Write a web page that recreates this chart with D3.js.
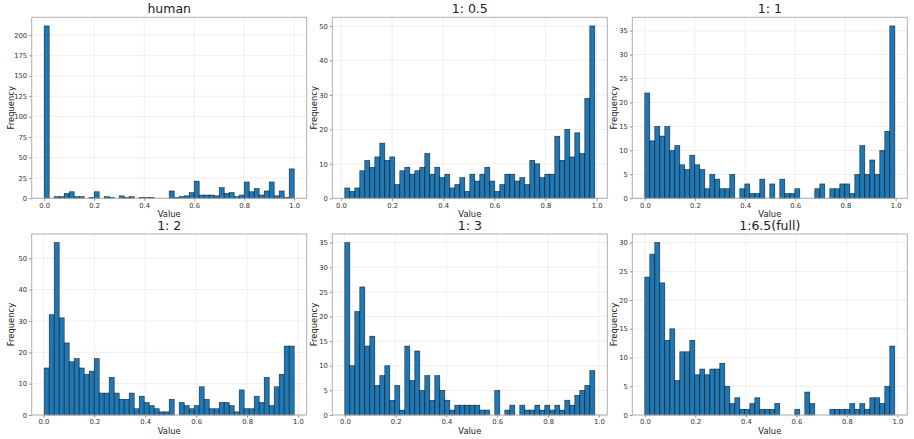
<!DOCTYPE html>
<html>
<head>
<meta charset="utf-8">
<script src="https://cdn.jsdelivr.net/npm/d3@7"></script>
<style>
	body { margin: 0; background: #fff; }
	svg { display: block; font-family: "DejaVu Sans", sans-serif; }
	.tick text { fill: #333; font-size: 6.8px; }
</style>
</head>
<body>
<svg id="chart" width="914" height="439"></svg>
<script>
// panel titles
var titles = ["human", "1: 0.5", "1: 1", "1: 2", "1: 3", "1:6.5(full)"];

// [first bin edge, last bin edge] of each histogram (50 bins each)
var binRanges = [
	[0.0, 1.0],
	[0.015, 0.993],
	[0.0, 0.997],
	[0.003, 0.985],
	[0.0, 0.984],
	[0.0, 0.99]
];

// bin counts
var humanCounts = [211, 0, 2, 2, 6, 8, 2, 2, 0, 1, 8, 0, 2, 1, 0, 3, 1, 2, 0, 1,
	1, 1, 0, 0, 0, 9, 1, 2, 3, 7, 21, 4, 4, 4, 3, 13, 6, 7, 2, 4,
	20, 8, 12, 4, 9, 20, 3, 9, 1, 36];
var ratioHalfCounts = [3, 2, 3, 8, 11, 9, 12, 16, 11, 12, 4, 8, 9, 7, 8, 9, 13, 7, 9, 6,
	7, 3, 4, 6, 2, 7, 5, 7, 9, 5, 2, 4, 7, 7, 5, 6, 4, 11, 10, 6,
	7, 7, 18, 11, 20, 12, 19, 13, 29, 50];
var ratio1Counts = [22, 12, 15, 13, 15, 10, 11, 7, 6, 9, 7, 6, 2, 5, 4, 2, 2, 5, 0, 2,
	3, 1, 1, 4, 0, 3, 0, 4, 1, 1, 2, 0, 0, 0, 2, 3, 0, 2, 2, 3,
	3, 1, 5, 11, 5, 8, 5, 10, 14, 36];
var ratio2Counts = [15, 32, 55, 31, 23, 17, 18, 15, 13, 14, 18, 7, 7, 12, 7, 5, 5, 7, 2, 6,
	4, 3, 2, 1, 1, 5, 0, 4, 3, 2, 3, 9, 5, 2, 2, 4, 4, 3, 1, 8,
	2, 2, 6, 4, 12, 3, 9, 13, 22, 22];
var ratio3Counts = [35, 10, 21, 26, 14, 16, 6, 8, 10, 3, 6, 1, 14, 7, 13, 5, 8, 3, 8, 5,
	3, 1, 2, 2, 2, 2, 2, 1, 1, 0, 5, 0, 1, 2, 0, 2, 1, 1, 2, 1,
	2, 1, 2, 1, 3, 2, 4, 5, 6, 9];
var fullCounts = [24, 28, 30, 23, 13, 15, 6, 11, 11, 13, 7, 8, 7, 8, 8, 9, 5, 2, 3, 1,
	1, 2, 3, 1, 1, 1, 2, 0, 0, 0, 1, 0, 4, 2, 0, 0, 0, 1, 1, 1,
	1, 2, 1, 2, 1, 3, 3, 2, 5, 12];

var counts = [humanCounts, ratioHalfCounts, ratio1Counts, ratio2Counts, ratio3Counts, fullCounts];
var yTickSteps = [25, 10, 5, 10, 5, 5];
var xTicks = [0, 0.2, 0.4, 0.6, 0.8, 1.0];

var layout = {
	lefts: [31.7, 332.3, 632.3],
	tops: [17.3, 234],
	width: 275,
	height: 181
};

var colors = {
	bar: "#1f77b4",
	edge: "#000",
	grid: "#ebebeb",
	frame: "#b0b0b0",
	text: "#222"
};

var svg = d3.select("#chart");

titles.forEach(function(title, p) {
	var left = layout.lefts[p % 3],
		top = layout.tops[Math.floor(p / 3)],
		w = layout.width, h = layout.height;

	var lo = binRanges[p][0], hi = binRanges[p][1],
		pad = (hi - lo) * 0.05,
		data = counts[p],
		step = (hi - lo) / data.length;

	var bins = data.map(function(c, i) {
		return { x0: lo + i * step, x1: lo + (i + 1) * step, count: c };
	});

	var x = d3.scaleLinear().domain([lo - pad, hi + pad]).range([0, w]);
	var yMax = d3.max(data) * 1.05;
	var y = d3.scaleLinear().domain([0, yMax]).range([h, 0]);
	var yTicks = d3.range(0, yMax, yTickSteps[p]);

	var g = svg.append("g").attr("transform", "translate(" + left + "," + top + ")");

	//grid first so bars sit on top
	g.append("g").selectAll("line.vx")
		.data(xTicks).enter().append("line")
		.attr("x1", x).attr("x2", x)
		.attr("y1", 0).attr("y2", h)
		.attr("stroke", colors.grid).attr("stroke-width", 0.8);
	g.append("g").selectAll("line.hy")
		.data(yTicks).enter().append("line")
		.attr("y1", y).attr("y2", y)
		.attr("x1", 0).attr("x2", w)
		.attr("stroke", colors.grid).attr("stroke-width", 0.8);

	g.append("g").selectAll("rect")
		.data(bins.filter(function(d) { return d.count > 0; }))
		.enter().append("rect")
		.attr("x", function(d) { return x(d.x0); })
		.attr("width", function(d) { return x(d.x1) - x(d.x0); })
		.attr("y", function(d) { return y(d.count); })
		.attr("height", function(d) { return h - y(d.count); })
		.attr("fill", colors.bar)
		.attr("stroke", colors.edge)
		.attr("stroke-opacity", 0.75)
		.attr("stroke-width", 0.6);

	var xAxis = g.append("g").attr("transform", "translate(0," + h + ")")
		.call(d3.axisBottom(x).tickValues(xTicks).tickFormat(d3.format(".1f")).tickSize(2.5).tickPadding(2));
	var yAxis = g.append("g")
		.call(d3.axisLeft(y).tickValues(yTicks).tickFormat(d3.format("d")).tickSize(2.5).tickPadding(2));
	[xAxis, yAxis].forEach(function(a) {
		a.select(".domain").remove();
		a.selectAll(".tick line").attr("stroke", "#444").attr("stroke-width", 0.6);
		a.selectAll(".tick text").attr("font-family", "DejaVu Sans");
	});

	g.append("rect")
		.attr("width", w).attr("height", h)
		.attr("fill", "none")
		.attr("stroke", colors.frame)
		.attr("stroke-width", 1);

	g.append("text")
		.attr("x", w / 2).attr("y", -4)
		.attr("text-anchor", "middle")
		.attr("font-size", 12.5)
		.attr("fill", colors.text)
		.text(title);

	g.append("text")
		.attr("x", w / 2).attr("y", h + 19)
		.attr("text-anchor", "middle")
		.attr("font-size", 8.4)
		.attr("fill", colors.text)
		.text("Value");

	g.append("text")
		.attr("transform", "translate(" + (p % 3 === 0 ? -17.5 : -15.5) + "," + (h / 2) + ") rotate(-90)")
		.attr("text-anchor", "middle")
		.attr("font-size", 8.4)
		.attr("fill", colors.text)
		.text("Frequency");
});
</script>
</body>
</html>
